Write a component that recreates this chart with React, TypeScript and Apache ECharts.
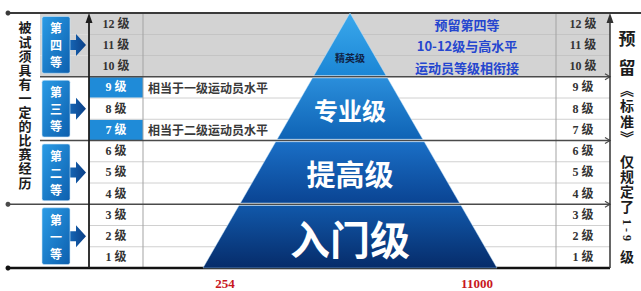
import React, { useEffect, useRef } from "react";
import * as echarts from "echarts";

// ---------- data ----------
const levels = [1, 2, 3, 4, 5, 6, 7, 8, 9, 10, 11, 12];
const levelLabels = ["1 级", "2 级", "3 级", "4 级", "5 级", "6 级", "7 级", "8 级", "9 级", "10 级", "11 级", "12 级"];
const highlightedLevels = [7, 9];
const noteLevels = [9, 7];
const notes = ["相当于一级运动员水平", "相当于二级运动员水平"];
const reservedLevels = [12, 11, 10];
const reservedNote = ["预留第四等", "10-12级与高水平", "运动员等级相衔接"];
const tierNames = ["第一等", "第二等", "第三等", "第四等"];
const tierLow = [0, 3, 6, 9];
const tierHigh = [3, 6, 9, 12];
const pyramidNames = ["入门级", "提高级", "专业级", "精英级"];
const leftCaption = "被试须具有一定的比赛经历";
const rightCaptionTop = "预留";
const rightCaptionBook = "︽标准︾";
const rightCaptionVerb = "仅规定了";
const rightCaptionRange = "1 - 9";
const rightCaptionEnd = "级";
const baseLabels = ["254", "11000"];

// ---------- layout & style ----------
const W = 641;
const H = 291;
const GRID_TOP = 13;
const GRID_BOTTOM = 23;
const APEX_X = 350;
const BASE_HALF = 147;
const COL = {
  dotX: 8,
  grayL: 40,
  boxL: 42,
  boxR: 70,
  arrowTip: 86,
  axisL: 89,
  labelL: 116,
  labelDiv: 143,
  noteX: 148,
  reserveNoteX: 467,
  labelDivR: 556,
  labelR: 583,
  axisR: 610,
  leftCapX: 25,
  rightCapX: 627,
};
const pyramidStyle = [
  { colors: ["#1158aa", "#062c6a"], fontSize: 40, fill: "#ffffff", labelAt: 0.47 },
  { colors: ["#1a6fc6", "#0a4493"], fontSize: 29, fill: "#ffffff", labelAt: 0.49 },
  { colors: ["#2a8edb", "#0f63b5"], fontSize: 24, fill: "#ffffff", labelAt: 0.48 },
  { colors: ["#3aa8ec", "#1b86d5"], fontSize: 10, fill: "#0f2347", labelAt: 0.3 },
];
const CJK = '"Noto Sans CJK SC", "Noto Sans", sans-serif';
const SERIF = '"Liberation Serif", "Noto Sans CJK SC", serif';

const vertical = (s: string) => s.split("").join("\n");

export default function App() {
  const ref = useRef<HTMLDivElement>(null);

  useEffect(() => {
    const chart = echarts.init(ref.current as HTMLDivElement, null, { renderer: "svg" });
    const X = (api: any, v: number) => api.coord([v, 0])[0];
    const Y = (api: any, v: number) => api.coord([0, v])[1];

    const rowSeries = {
      type: "custom",
      z: 1,
      silent: true,
      data: levels.map((l) => [l]),
      renderItem: (_p: any, api: any) => {
        const lv = api.value(0) as number;
        const yT = Y(api, lv);
        const yB = Y(api, lv - 1);
        const h = yB - yT;
        const yM = (yT + yB) / 2;
        const reserved = reservedLevels.includes(lv);
        const hl = highlightedLevels.includes(lv);
        const ch: any[] = [];
        if (reserved) {
          ch.push({
            type: "rect",
            shape: { x: X(api, COL.grayL), y: yT, width: X(api, COL.axisR) - X(api, COL.grayL), height: h },
            style: { fill: "#d3d3d3" },
          });
        }
        if (hl) {
          ch.push({
            type: "rect",
            shape: { x: X(api, COL.axisL), y: yT + 0.5, width: X(api, COL.labelDiv) - X(api, COL.axisL), height: h - 1 },
            style: { fill: "#1f8bd8" },
          });
        }
        if (lv % 3 !== 0) {
          ch.push({
            type: "line",
            shape: { x1: X(api, COL.axisL), y1: yT, x2: X(api, COL.axisR), y2: yT },
            style: { stroke: reserved ? "#b5b5b5" : "#d0d0d0", lineWidth: 1 },
          });
        }
        const lblStyle = {
          text: levelLabels[lv - 1],
          y: yM,
          align: "center",
          verticalAlign: "middle",
          fontSize: 12,
          fontWeight: "bold",
          fontFamily: SERIF,
        };
        ch.push({ type: "text", style: { ...lblStyle, x: X(api, COL.labelL), fill: hl ? "#ffffff" : "#333333" } });
        ch.push({ type: "text", style: { ...lblStyle, x: X(api, COL.labelR), fill: "#333333" } });
        const ni = noteLevels.indexOf(lv);
        if (ni >= 0) {
          ch.push({
            type: "text",
            style: {
              text: notes[ni],
              x: X(api, COL.noteX),
              y: yM,
              align: "left",
              verticalAlign: "middle",
              fontSize: 12,
              fontWeight: "bold",
              fontFamily: CJK,
              fill: "#3a3a3a",
            },
          });
        }
        const ri = reservedLevels.indexOf(lv);
        if (ri >= 0) {
          ch.push({
            type: "text",
            style: {
              text: reservedNote[ri],
              x: X(api, COL.reserveNoteX),
              y: yM + 1,
              align: "center",
              verticalAlign: "middle",
              fontSize: 13,
              fontWeight: "bold",
              fontFamily: CJK,
              fill: "#2546cf",
            },
          });
        }
        return { type: "group", children: ch };
      },
    };

    const tierSeries = {
      type: "custom",
      z: 3,
      silent: true,
      data: tierNames.map((_n, i) => [tierLow[i], tierHigh[i], i]),
      renderItem: (_p: any, api: any) => {
        const lo = api.value(0) as number;
        const hi = api.value(1) as number;
        const i = api.value(2) as number;
        const yT = Y(api, hi);
        const yB = Y(api, lo);
        const yM = (yT + yB) / 2;
        const bx = X(api, COL.boxL);
        const br = X(api, COL.boxR);
        const tip = X(api, COL.arrowTip);
        const ch: any[] = [];
        ch.push({
          type: "polygon",
          shape: {
            points: [
              [br - 1, yM - 5],
              [br + 6, yM - 5],
              [br + 6, yM - 11],
              [tip, yM],
              [br + 6, yM + 11],
              [br + 6, yM + 5],
              [br - 1, yM + 5],
            ],
          },
          style: { fill: new echarts.graphic.LinearGradient(0, 0, 1, 0, [{ offset: 0, color: "#1668b8" }, { offset: 1, color: "#0b3f86" }]) },
        });
        ch.push({
          type: "rect",
          shape: { x: bx, y: yT + 3.5, width: br - bx, height: yB - yT - 7, r: 2 },
          style: {
            fill: new echarts.graphic.LinearGradient(0, 0, 1, 1, [{ offset: 0, color: "#2a9ce6" }, { offset: 1, color: "#0d5fae" }]),
            stroke: "#cfe6f7",
            lineWidth: 0.6,
          },
        });
        ch.push({
          type: "text",
          style: {
            text: vertical(tierNames[i]),
            x: (bx + br) / 2,
            y: yM,
            align: "center",
            verticalAlign: "middle",
            fontSize: 12,
            lineHeight: 17,
            fontWeight: "bold",
            fontFamily: CJK,
            fill: "#ffffff",
          },
        });
        const fromDot = i <= 1;
        const sx = X(api, fromDot ? COL.dotX : COL.grayL);
        const ex = X(api, COL.axisR);
        const col = i === 0 ? "#111111" : "#4a4a4a";
        ch.push({
          type: "line",
          shape: { x1: sx, y1: yB, x2: ex, y2: yB },
          style: { stroke: col, lineWidth: i === 0 ? 2.5 : 1.6 },
        });
        if (fromDot) ch.push({ type: "circle", shape: { cx: sx, cy: yB, r: 2.5 }, style: { fill: col } });
        if (i > 0) {
          ch.push({
            type: "polyline",
            shape: { points: [[ex - 5, yB - 3], [ex, yB], [ex - 5, yB + 3]] },
            style: { stroke: col, lineWidth: 1.2, fill: "none" },
          });
        }
        if (i === 3) {
          const tx = X(api, COL.dotX);
          ch.push({ type: "line", shape: { x1: tx, y1: yT, x2: X(api, W), y2: yT }, style: { stroke: "#3a3a3a", lineWidth: 2 } });
          ch.push({ type: "circle", shape: { cx: tx, cy: yT, r: 2.5 }, style: { fill: "#3a3a3a" } });
        }
        return { type: "group", children: ch };
      },
    };

    const pyramidSeries = {
      type: "custom",
      z: 4,
      silent: true,
      data: pyramidNames.map((_n, i) => [tierLow[i], tierHigh[i], i]),
      renderItem: (_p: any, api: any) => {
        const lo = api.value(0) as number;
        const hi = api.value(1) as number;
        const i = api.value(2) as number;
        const hw = (v: number) => (BASE_HALF * (12 - v)) / 12;
        const g = 0.06;
        const l0 = lo === 0 ? lo : lo + g;
        const h0 = hi === 12 ? hi : hi - g;
        const pts = [
          [APEX_X - hw(l0), l0],
          [APEX_X + hw(l0), l0],
          [APEX_X + hw(h0), h0],
          [APEX_X - hw(h0), h0],
        ].map((p) => api.coord(p));
        const st = pyramidStyle[i];
        const ly = lo + (hi - lo) * st.labelAt;
        return {
          type: "group",
          children: [
            {
              type: "polygon",
              shape: { points: pts },
              style: {
                fill: new echarts.graphic.LinearGradient(0, 0, 0, 1, [
                  { offset: 0, color: st.colors[0] },
                  { offset: 1, color: st.colors[1] },
                ]),
                stroke: "rgba(190,225,250,0.55)",
                lineWidth: 0.8,
              },
            },
            {
              type: "text",
              style: {
                text: pyramidNames[i],
                x: X(api, APEX_X),
                y: Y(api, ly),
                align: "center",
                verticalAlign: "middle",
                fontSize: st.fontSize,
                fontWeight: "bold",
                fontFamily: CJK,
                fill: st.fill,
              },
            },
          ],
        };
      },
    };

    const yTop = GRID_TOP;
    const yBot = H - GRID_BOTTOM;
    const graphic: any[] = [];
    const vline = (x: number, color: string, lw: number, arrow: boolean, z: number) => {
      graphic.push({ type: "line", z, shape: { x1: x, y1: yBot, x2: x, y2: arrow ? yTop + 4 : yTop }, style: { stroke: color, lineWidth: lw } });
      if (arrow) {
        graphic.push({ type: "polygon", z, shape: { points: [[x - 3.5, yTop + 10], [x, yTop], [x + 3.5, yTop + 10]] }, style: { fill: color } });
      }
    };
    vline(COL.labelDiv, "#a3a3a3", 1, false, 2);
    vline(COL.labelDivR, "#a3a3a3", 1, false, 2);
    vline(COL.axisL, "#1e1e1e", 1.8, true, 5);
    vline(COL.axisR, "#333333", 1.5, true, 5);

    const capText = (text: string, x: number, y: number, fontSize: number, lineHeight: number, family = CJK, rotation = 0) => {
      graphic.push({
        type: "text",
        z: 10,
        x,
        y,
        rotation,
        style: {
          text,
          x: 0,
          y: 0,
          align: "center",
          verticalAlign: "middle",
          fontSize,
          lineHeight,
          fontWeight: "bold",
          fontFamily: family,
          fill: "#1c1c1c",
        },
      });
    };
    capText(vertical(leftCaption), COL.leftCapX, 104.5, 13, 14.1);
    capText(vertical(rightCaptionTop), COL.rightCapX, 51.5, 17, 29);
    capText(vertical(rightCaptionBook), COL.rightCapX, 113, 14, 16);
    capText(vertical(rightCaptionVerb), COL.rightCapX, 183, 14, 15);
    capText(rightCaptionRange, COL.rightCapX, 230, 12, 12, SERIF, -Math.PI / 2);
    capText(rightCaptionEnd, COL.rightCapX, 256, 14, 14);

    [225, 477].forEach((x, k) => {
      graphic.push({
        type: "text",
        z: 10,
        style: {
          text: baseLabels[k],
          x,
          y: 283,
          align: "center",
          verticalAlign: "middle",
          fontSize: 13,
          fontWeight: "bold",
          fontFamily: SERIF,
          fill: "#c8161d",
        },
      });
    });

    chart.setOption({
      animation: false,
      backgroundColor: "#ffffff",
      grid: { left: 0, right: 0, top: GRID_TOP, bottom: GRID_BOTTOM },
      xAxis: { type: "value", min: 0, max: W, show: false },
      yAxis: { type: "value", min: 0, max: 12, show: false },
      graphic,
      series: [rowSeries, tierSeries, pyramidSeries],
    } as any);

    return () => chart.dispose();
  }, []);

  return <div ref={ref} style={{ position: "fixed", left: 0, top: 0, width: W, height: H, background: "#fff" }} />;
}
